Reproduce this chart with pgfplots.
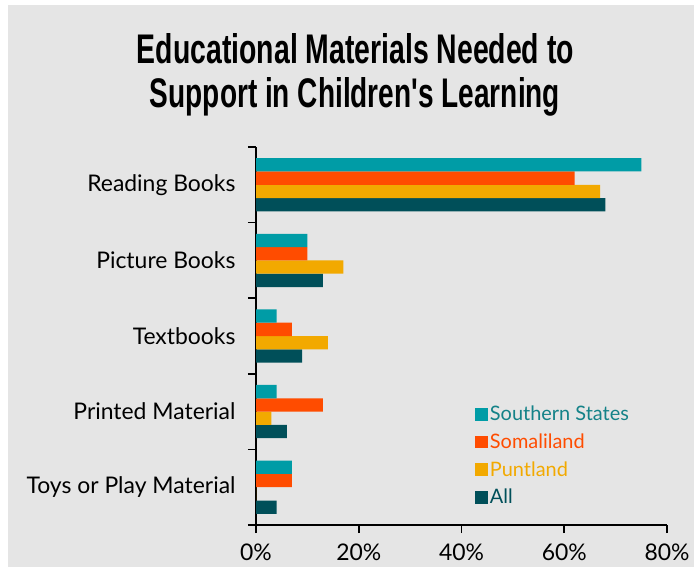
\documentclass[border=0pt]{standalone}
\usepackage{graphicx}
\usepackage{pgfplots}
\pgfplotsset{compat=1.18}
\usepackage{fontspec}
\setmainfont{Lato}
\newfontfamily\titlefont{Liberation Sans}
\definecolor{bg}{RGB}{229,229,229}
\definecolor{ss}{RGB}{0,156,166}
\definecolor{som}{RGB}{255,76,0}
\definecolor{punt}{RGB}{242,169,0}
\definecolor{allc}{RGB}{0,79,89}
\definecolor{sstext}{RGB}{20,130,136}
\begin{document}
\begin{tikzpicture}
\path[use as bounding box] (0bp,0bp) rectangle (694bp,-567bp);
\fill[white] (0bp,0bp) rectangle (694bp,-567bp);
\fill[bg] (8bp,-5bp) rectangle (694bp,-567bp);
\node[inner sep=0pt, anchor=base] at (355.5bp,-63bp) {\resizebox{437bp}{30bp}{\titlefont\bfseries Educational Materials Needed to}};
\node[inner sep=0pt, anchor=base] at (355bp,-107bp) {\resizebox{410bp}{30bp}{\titlefont\bfseries Support in Children's Learning}};
\begin{axis}[
  at={(256bp,-525bp)}, anchor=south west,
  scale only axis, width=411bp, height=378bp,
  xbar=0pt, bar width=0.176,
  xmin=0, xmax=80, ymin=-0.5, ymax=4.5,
  axis lines=left, axis line style={-, line width=1.6bp, black},
  xtick={0,20,40,60,80}, xticklabels={0\%,20\%,40\%,60\%,80\%},
  xticklabel style={yshift=-7bp},
  ytick={-0.5,0.5,1.5,2.5,3.5,4.5}, yticklabels={},
  extra y ticks={0,1,2,3,4},
  extra y tick labels={Toys or Play Material, Printed Material, Textbooks, Picture Books, Reading Books},
  extra y tick style={major tick length=0pt, yticklabel style={xshift=-17bp}},
  tick align=outside, major tick length=8bp,
  tick style={line width=1.6bp, black},
  ticklabel style={font=\fontsize{23}{27}\selectfont, text=black},
  legend style={at={(0.533,0.32)}, anchor=north west, draw=none, fill=none,
    font=\fontsize{20}{24}\selectfont, inner sep=0pt, row sep=7.5bp},
  legend cell align=left,
  legend image code/.code={\fill[#1] (0bp,-6.3bp) rectangle (12.7bp,6.3bp);},
  reverse legend,
]
\addplot[draw=none, fill=allc] coordinates {(68,4) (13,3) (9,2) (6,1) (4,0)};
\addlegendentry{\textcolor{allc}{All}}
\addplot[draw=none, fill=punt] coordinates {(67,4) (17,3) (14,2) (3,1) (0,0)};
\addlegendentry{\textcolor{punt}{Puntland}}
\addplot[draw=none, fill=som] coordinates {(62,4) (10,3) (7,2) (13,1) (7,0)};
\addlegendentry{\textcolor{som}{Somaliland}}
\addplot[draw=none, fill=ss] coordinates {(75,4) (10,3) (4,2) (4,1) (7,0)};
\addlegendentry{\textcolor{sstext}{Southern States}}
\end{axis}
\end{tikzpicture}
\end{document}
